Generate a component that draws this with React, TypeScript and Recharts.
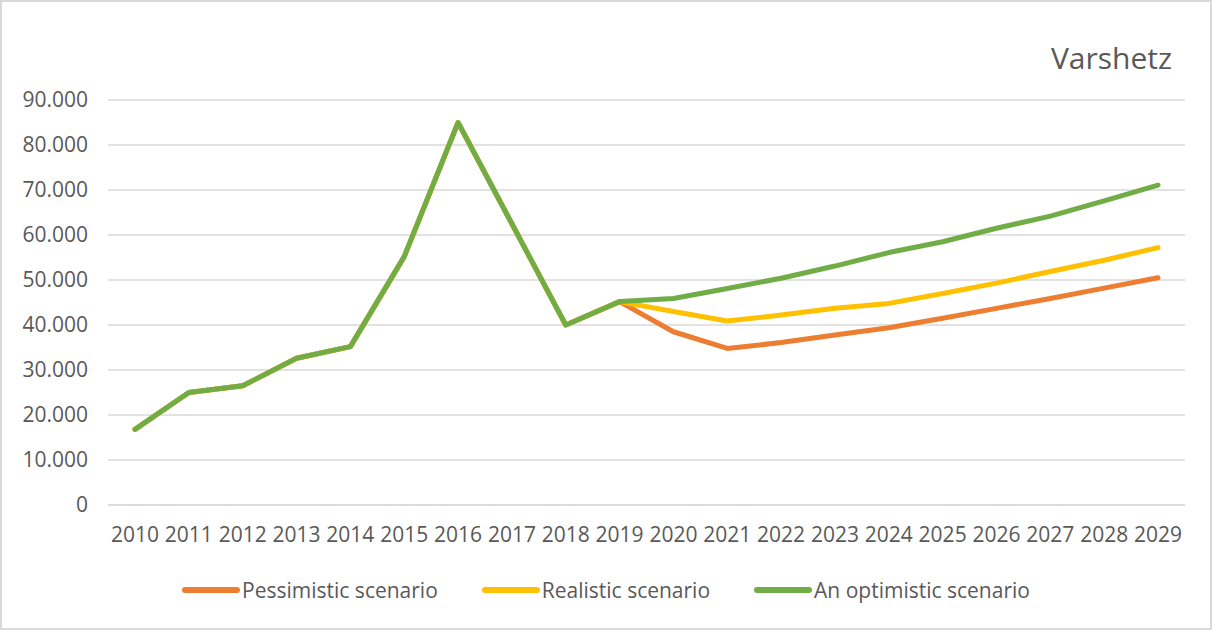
import { CartesianGrid, Legend, Line, LineChart, XAxis, YAxis } from "recharts"

const years = [
  "2010", "2011", "2012", "2013", "2014", "2015", "2016", "2017", "2018", "2019",
  "2020", "2021", "2022", "2023", "2024", "2025", "2026", "2027", "2028", "2029",
]

// 2010-2019 are shared by all three scenarios
const history = [16800, 25000, 26500, 32600, 35200, 55200, 85000, 62500, 40000, 45200]

const pessimistic = [38500, 34800, 36100, 37800, 39400, 41500, 43700, 45900, 48200, 50500]
const realistic = [43000, 40900, 42200, 43700, 44800, 47000, 49300, 51900, 54400, 57200]
const optimistic = [45900, 48100, 50400, 53100, 56100, 58500, 61500, 64200, 67600, 71100]

const yTicks = [0, 10000, 20000, 30000, 40000, 50000, 60000, 70000, 80000, 90000]

const series = [
  { key: "pessimistic", name: "Pessimistic scenario", color: "#ED7D31", values: pessimistic },
  { key: "realistic", name: "Realistic scenario", color: "#FFC000", values: realistic },
  { key: "optimistic", name: "An optimistic scenario", color: "#70AD47", values: optimistic },
]

const data = years.map((year, i) => {
  const row: Record<string, string | number> = { year }
  series.forEach((s) => {
    row[s.key] = i < history.length ? history[i] : s.values[i - history.length]
  })
  return row
})

const font = "'Open Sans', sans-serif"
const textColor = "#595959"

const formatTick = (v: number) => (v === 0 ? "0" : `${v / 1000}.000`)

function LegendContent() {
  return (
    <div
      style={{
        display: "flex",
        justifyContent: "center",
        gap: 44,
        height: 28,
        fontFamily: font,
        fontSize: 21,
        color: textColor,
        lineHeight: "28px",
      }}
    >
      {series.map((s) => (
        <div key={s.key} style={{ display: "flex", alignItems: "center" }}>
          <svg width={58} height={10}>
            <line x1={3} y1={5} x2={55} y2={5} stroke={s.color} strokeWidth={6} strokeLinecap="round" />
          </svg>
          <span style={{ marginLeft: 2 }}>{s.name}</span>
        </div>
      ))}
    </div>
  )
}

export default function App() {
  return (
    <div
      style={{
        position: "absolute",
        left: 0,
        top: 0,
        width: 1212,
        height: 630,
        background: "#fff",
        border: "2px solid #d9d9d9",
        boxSizing: "border-box",
      }}
    >
      <div
        style={{
          position: "absolute",
          right: 38,
          top: 36,
          fontFamily: font,
          fontSize: 30,
          color: textColor,
          lineHeight: "40px",
        }}
      >
        Varshetz
      </div>
      <div style={{ position: "absolute", left: -2, top: -2 }}>
        <LineChart width={1212} height={630} data={data} margin={{ top: 100, right: 27, bottom: 37, left: 0 }}>
          <CartesianGrid vertical={false} stroke="#d9d9d9" strokeWidth={1.5} />
          <XAxis
            dataKey="year"
            padding={{ left: 27, right: 27 }}
            tickLine={false}
            tickSize={0}
            tickMargin={22}
            axisLine={{ stroke: "#d9d9d9", strokeWidth: 1.5 }}
            tick={{ fill: textColor, fontSize: 21, fontFamily: font }}
            height={60}
            interval={0}
          />
          <YAxis
            domain={[0, 90000]}
            ticks={yTicks}
            tickFormatter={formatTick}
            width={108}
            tickLine={false}
            axisLine={false}
            tickSize={0}
            tickMargin={20}
            tick={{ fill: textColor, fontSize: 21, fontFamily: font }}
          />
          <Legend
            verticalAlign="bottom"
            height={28}
            content={<LegendContent />}
            wrapperStyle={{ left: 0, width: 1212, top: 576 }}
          />
          {series.map((s) => (
            <Line
              key={s.key}
              dataKey={s.key}
              name={s.name}
              stroke={s.color}
              strokeWidth={5}
              strokeLinecap="round"
              strokeLinejoin="round"
              dot={false}
              activeDot={false}
              isAnimationActive={false}
            />
          ))}
        </LineChart>
      </div>
    </div>
  )
}
